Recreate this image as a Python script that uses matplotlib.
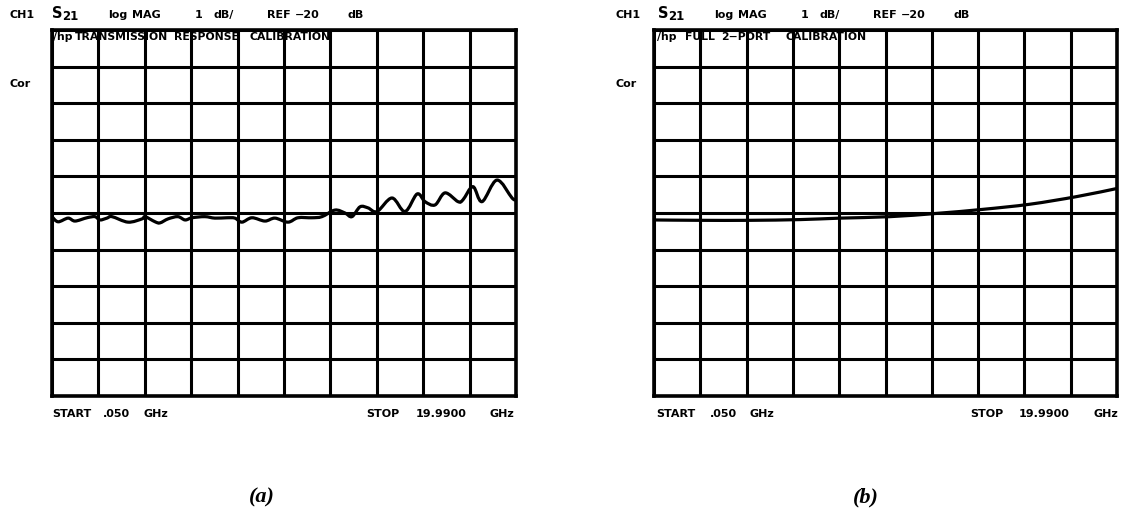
import numpy as np
import matplotlib
matplotlib.use("Agg")
import matplotlib.pyplot as plt
from matplotlib.path import Path
from matplotlib.patches import PathPatch

# ---- data ----
START_GHZ = 0.05
STOP_GHZ = 19.99
REF_DB = -20.0
DB_PER_DIV = 1.0

# (a) transmission response calibration trace
freq_a = [0.05, 0.31, 0.74, 1.04, 1.55, 1.90, 2.11, 2.41, 2.63, 3.32, 3.92, 4.05,
          4.48, 4.69, 5.04, 5.46, 5.77, 6.07, 6.62, 7.05, 7.57, 7.91, 8.21, 8.64,
          9.20, 9.63, 10.19, 10.62, 11.22, 11.65, 12.21, 12.64, 12.94, 13.29,
          13.63, 14.02, 14.66, 15.22, 15.74, 16.08, 16.51, 16.94, 17.50, 17.71,
          18.14, 18.53, 19.17, 19.82, 19.99]
mag_a = [-20.10, -20.24, -20.14, -20.22, -20.13, -20.10, -20.19, -20.14, -20.10,
         -20.25, -20.16, -20.10, -20.24, -20.27, -20.16, -20.10, -20.19, -20.13,
         -20.10, -20.14, -20.13, -20.14, -20.25, -20.13, -20.22, -20.14, -20.25,
         -20.13, -20.13, -20.10, -19.92, -20.00, -20.10, -19.83, -19.86, -19.96,
         -19.59, -19.96, -19.48, -19.69, -19.78, -19.45, -19.69, -19.64, -19.28,
         -19.69, -19.10, -19.59, -19.64]

# (b) full 2-port calibration trace
freq_b = [0.05, 2.03, 4.18, 6.34, 8.06, 10.21, 12.24, 14.22, 16.24, 18.27, 19.99]
mag_b = [-20.19, -20.20, -20.20, -20.18, -20.14, -20.10, -20.01, -19.90, -19.76,
         -19.55, -19.33]

header_words = ["CH1", "log", "MAG", "1", "dB/", "REF", "\u221220", "dB"]
title_words_a = ["/hp", "TRANSMISSION", "RESPONSE", "CALIBRATION"]
title_words_b = ["/hp", "FULL", "2\u2212PORT", "CALIBRATION"]
start_words = ["START", ".050", "GHz"]
stop_words = ["STOP", "19.9900", "GHz"]
panel_labels = ["(a)", "(b)"]

W, H = 1125, 514
fig = plt.figure(figsize=(W / 100, H / 100), dpi=100)

def fx(px):
    return px / W

def fy(py):
    return 1 - py / H

def smooth_path(x, y):
    pts = np.column_stack([x, y])
    n = len(pts)
    verts = [pts[0]]
    codes = [Path.MOVETO]
    for i in range(n - 1):
        p0 = pts[max(i - 1, 0)]
        p1 = pts[i]
        p2 = pts[i + 1]
        p3 = pts[min(i + 2, n - 1)]
        c1 = p1 + (p2 - p0) / 6.0
        c2 = p2 - (p3 - p1) / 6.0
        verts += [c1, c2, p2]
        codes += [Path.CURVE4] * 3
    return Path(verts, codes)

FONT = "DejaVu Sans"
panels = [
    dict(x0=52, x1=516, off=0, freq=freq_a, mag=mag_a, lab=262,
         title=title_words_a, title_x=[52, 74, 173, 248],
         start_x=[52, 103, 144], stop_x=[366, 416, 490]),
    dict(x0=654, x1=1117, off=606, freq=freq_b, mag=mag_b, lab=866,
         title=title_words_b, title_x=[656, 684, 720, 784],
         start_x=[656, 710, 750], stop_x=[970, 1019, 1093]),
]
header_x = [10, 108, 132, 195, 214, 267, 295, 347]
y_top, y_bot = 30, 396

for k, p in enumerate(panels):
    ax = fig.add_axes([fx(p["x0"]), fy(y_bot), fx(p["x1"] - p["x0"]), (y_bot - y_top) / H])
    ax.set_xlim(START_GHZ, STOP_GHZ)
    ax.set_ylim(REF_DB - 5 * DB_PER_DIV, REF_DB + 5 * DB_PER_DIV)
    ax.set_xticks(np.linspace(START_GHZ, STOP_GHZ, 11))
    ax.set_yticks(np.linspace(REF_DB - 5 * DB_PER_DIV, REF_DB + 5 * DB_PER_DIV, 11))
    ax.tick_params(length=0, labelbottom=False, labelleft=False)
    ax.grid(True, color="black", linewidth=2.2)
    ax.set_axisbelow(True)
    for s in ax.spines.values():
        s.set_linewidth(2.6)
    patch = PathPatch(smooth_path(p["freq"], p["mag"]), fill=False,
                      edgecolor="black", linewidth=2.3, capstyle="round",
                      joinstyle="round", zorder=3)
    ax.add_patch(patch)

    kw = dict(fontsize=8.0, weight="bold", family=FONT, va="center")
    off = p["off"]
    yh = fy(15)
    for word, xp in zip(header_words, header_x):
        fig.text(fx(xp + off), yh, word, **kw)
    fig.text(fx(52 + off), fy(14), "S", fontsize=10.5, weight="bold", family=FONT, va="center")
    fig.text(fx(62 + off), fy(17), "21", fontsize=8.5, weight="bold", family=FONT, va="center")

    for word, xp in zip(p["title"], p["title_x"]):
        fig.text(fx(xp + 1), fy(37), word, fontsize=7.8, weight="bold",
                 family=FONT, va="center")
    fig.text(fx(10 + off), fy(84), "Cor", **kw)

    for word, xp in zip(start_words, p["start_x"]):
        fig.text(fx(xp), fy(414), word, **kw)
    for word, xp in zip(stop_words, p["stop_x"]):
        fig.text(fx(xp), fy(414), word, **kw)

    fig.text(fx(p["lab"]), fy(497), panel_labels[k], fontsize=16, weight="bold",
             style="italic", family="Liberation Serif", va="center", ha="center")

fig.savefig("out.png", dpi=100)
